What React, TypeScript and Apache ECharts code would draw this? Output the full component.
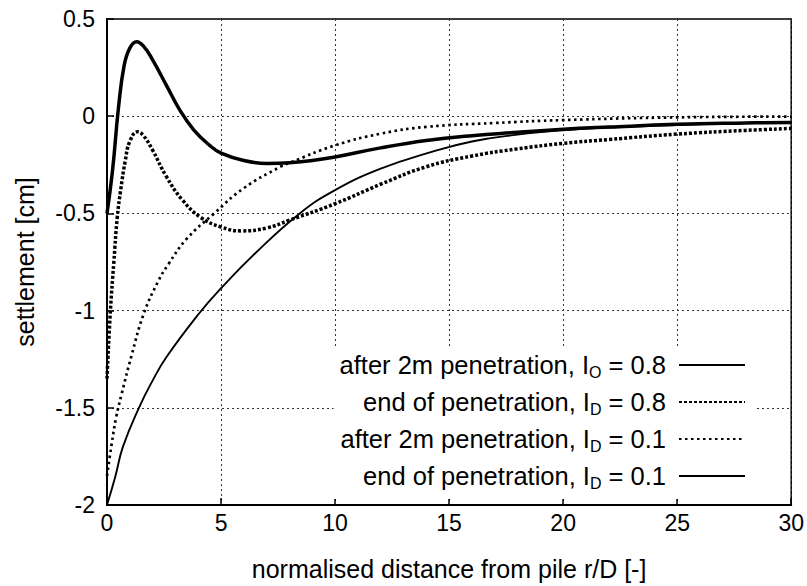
import React, { useEffect, useRef } from "react";
import * as echarts from "echarts";

// r/D values and settlements [cm] for each curve
const xAfter08 = [0, 0.25, 0.5, 0.75, 1.0, 1.3, 1.6, 2.0, 2.6, 3.2, 3.8, 4.5, 5, 6, 7, 8, 9, 10, 12, 14, 16, 18, 20, 22, 25, 28, 30];
const yAfter08 = [-0.5, -0.27, 0.04, 0.26, 0.35, 0.383, 0.36, 0.29, 0.16, 0.03, -0.07, -0.15, -0.19, -0.228, -0.243, -0.24, -0.228, -0.21, -0.163, -0.125, -0.1, -0.083, -0.067, -0.056, -0.042, -0.035, -0.032];

const xEnd08 = [0, 0.15, 0.3, 0.45, 0.6, 0.8, 1.0, 1.34, 1.6, 2.0, 2.6, 3.3, 4.1, 5, 5.9, 7, 8, 10, 12, 14, 16, 18, 20, 22, 25, 28, 30];
const yEnd08 = [-1.35, -1.0, -0.75, -0.52, -0.38, -0.23, -0.13, -0.08, -0.1, -0.175, -0.31, -0.43, -0.52, -0.57, -0.59, -0.575, -0.535, -0.45, -0.35, -0.26, -0.205, -0.168, -0.14, -0.12, -0.092, -0.073, -0.063];

const xAfter01 = [0, 0.2, 0.4, 0.64, 1.08, 1.6, 2.24, 2.7, 3.5, 4.7, 6, 7.6, 8, 10, 12, 14, 17, 20, 25, 30];
const yAfter01 = [-1.85, -1.69, -1.55, -1.43, -1.23, -1.02, -0.85, -0.76, -0.63, -0.5, -0.37, -0.26, -0.24, -0.15, -0.09, -0.055, -0.035, -0.02, -0.006, -0.002];

const xEnd01 = [0, 0.35, 0.7, 1.4, 2.0, 2.6, 4.0, 5, 6.5, 8.45, 10, 12, 14.2, 16, 18, 20, 22, 25, 28, 30];
const yEnd01 = [-2.0, -1.86, -1.7, -1.5, -1.36, -1.24, -1.02, -0.885, -0.705, -0.5, -0.38, -0.27, -0.185, -0.13, -0.095, -0.072, -0.058, -0.045, -0.035, -0.03];

const seriesNames = [
  "after 2m penetration, I_O = 0.8",
  "end of penetration, I_D = 0.8",
  "after 2m penetration, I_D = 0.1",
  "end of penetration, I_D = 0.1",
];
const legendParts: [string, string, string][] = [
  ["after 2m penetration, I", "O", " = 0.8"],
  ["end of penetration, I", "D", " = 0.8"],
  ["after 2m penetration, I", "D", " = 0.1"],
  ["end of penetration, I", "D", " = 0.1"],
];

const xTitle = "normalised distance from pile r/D [-]";
const yTitle = "settlement [cm]";

const FONT = "Liberation Sans, Arial, Helvetica, sans-serif";

function pairs(xs: number[], ys: number[]) {
  return xs.map((x, i) => [x, ys[i]]);
}

export default function App() {
  const ref = useRef<HTMLDivElement>(null);
  useEffect(() => {
    if (!ref.current) return;
    const chart = echarts.init(ref.current, undefined, { renderer: "svg" });
    const gridLine = { show: true, lineStyle: { color: "#333", width: 1, type: [2, 3] as any } };
    const styles = [
      { width: 3.5, type: "solid" as any },
      { width: 3.5, type: [3, 2] as any },
      { width: 2.7, type: [2.5, 3.5] as any },
      { width: 1.9, type: "solid" as any },
    ];
    const datasets = [
      pairs(xAfter08, yAfter08),
      pairs(xEnd08, yEnd08),
      pairs(xAfter01, yAfter01),
      pairs(xEnd01, yEnd01),
    ];
    chart.setOption({
      animation: false,
      backgroundColor: "#fff",
      grid: { left: 107, right: 15, top: 19, bottom: 79, show: true, borderColor: "#000", borderWidth: 1.5, backgroundColor: "transparent" },
      xAxis: [
        {
          type: "value",
          min: 0,
          max: 30,
          interval: 5,
          position: "bottom",
          axisLine: { show: true, onZero: false, lineStyle: { color: "#000", width: 2 } },
          axisTick: { show: true, inside: true, length: 7, lineStyle: { color: "#000", width: 1.5 } },
          axisLabel: { color: "#000", fontSize: 23, fontFamily: FONT, margin: 6 },
          splitLine: gridLine,
          name: xTitle,
          nameLocation: "middle",
          nameGap: 51,
          nameTextStyle: { color: "#000", fontSize: 25, fontFamily: FONT },
        },
      ],
      yAxis: [
        {
          type: "value",
          min: -2,
          max: 0.5,
          interval: 0.5,
          axisLine: { show: true, onZero: false, lineStyle: { color: "#000", width: 2 } },
          axisTick: { show: true, inside: true, length: 7, lineStyle: { color: "#000", width: 1.5 } },
          axisLabel: { color: "#000", fontSize: 23, fontFamily: FONT, margin: 12 },
          splitLine: gridLine,
          name: yTitle,
          nameLocation: "middle",
          nameGap: 70,
          nameTextStyle: { color: "#000", fontSize: 25, fontFamily: FONT },
        },
      ],
      legend: {
        orient: "vertical",
        right: 51,
        top: 346,
        align: "right",
        itemWidth: 66,
        itemHeight: 20,
        itemGap: 9,
        padding: [6, 10, 8, 6],
        backgroundColor: "#fff",
        itemStyle: { opacity: 0 },
        data: seriesNames,
        formatter: (name: string) => {
          const i = seriesNames.indexOf(name);
          const p = legendParts[i];
          return `{t|${p[0]}}{s|${p[1]}}{e|${p[2]}}`;
        },
        textStyle: {
          color: "#000",
          fontFamily: FONT,
          fontSize: 25.5,
          rich: {
            t: { fontSize: 25.5, lineHeight: 30, fontFamily: FONT, color: "#000" },
            s: { fontSize: 16, lineHeight: 14, verticalAlign: "bottom", fontFamily: FONT, color: "#000" },
            e: { fontSize: 25.5, lineHeight: 30, fontFamily: FONT, color: "#000", padding: [0, 8, 0, 0] },
          },
        },
      },
      series: datasets.map((d, i) => ({
        name: seriesNames[i],
        type: "line",
        data: d,
        smooth: 0.45,
        symbol: "none",
        showSymbol: false,
        lineStyle: { color: "#000", width: styles[i].width, type: styles[i].type },
        itemStyle: { color: "#000" },
        z: 3,
      })),
    });
    return () => chart.dispose();
  }, []);
  return <div ref={ref} style={{ position: "fixed", left: 0, top: 0, width: 807, height: 586 }} />;
}
